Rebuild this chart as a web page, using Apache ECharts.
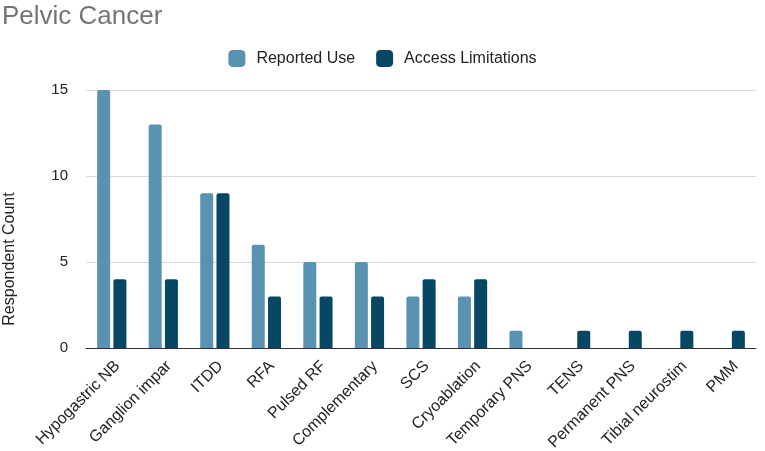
<!DOCTYPE html>
<html><head><meta charset="utf-8">
<script src="https://cdn.jsdelivr.net/npm/echarts@6/dist/echarts.min.js"></script>
<style>html,body{margin:0;padding:0;background:#fff}#c{width:765px;height:451px}</style>
</head><body><div id="c"></div>
<script>
const categories = ["Hypogastric NB","Ganglion impar","ITDD","RFA","Pulsed RF","Complementary","SCS","Cryoablation","Temporary PNS","TENS","Permanent PNS","Tibial neurostim","PMM"];
const reportedUse = [15,13,9,6,5,5,3,3,1,0,0,0,0];
const accessLimitations = [4,4,9,3,3,3,4,4,0,1,1,1,1];
const yTicks = [0,5,10,15];

const F = 'Liberation Sans, Arial, sans-serif';
const chart = echarts.init(document.getElementById('c'), null, {renderer:'canvas'});
chart.setOption({
  animation:false,
  title:{text:'Pelvic Cancer',left:-3,top:-1,textStyle:{fontFamily:F,fontSize:26,fontWeight:'normal',color:'#757575'}},
  legend:{top:45,left:'center',itemWidth:17,itemHeight:17,itemGap:21,icon:'roundRect',
    textStyle:{fontFamily:F,fontSize:16,color:'#222',padding:[0,0,0,6]}},
  grid:{left:86,right:9,top:90,bottom:103,outerBoundsMode:'none',containLabel:false},
  xAxis:{type:'category',data:categories,
    axisLine:{lineStyle:{color:'#333',width:1}},axisTick:{show:false},
    axisLabel:{rotate:45,interval:0,fontFamily:F,fontSize:16,color:'#222',margin:10,verticalAlign:'top'}},
  yAxis:{type:'value',min:yTicks[0],max:yTicks[yTicks.length-1],interval:5,
    name:'Respondent Count',nameLocation:'middle',nameGap:68,
    nameTextStyle:{fontFamily:F,fontSize:16,color:'#222',padding:[0,80,0,0]},
    axisLabel:{fontFamily:F,fontSize:15,color:'#222',margin:18},
    splitLine:{lineStyle:{color:'#d9d9d9'}}},
  series:[
    {name:'Reported Use',type:'bar',data:reportedUse,barWidth:13,barGap:'25%',
     itemStyle:{color:'#5a92b1',borderRadius:[2,2,0,0]}},
    {name:'Access Limitations',type:'bar',data:accessLimitations,barWidth:13,
     itemStyle:{color:'#074763',borderRadius:[2,2,0,0]}}
  ]
});
</script></body></html>
